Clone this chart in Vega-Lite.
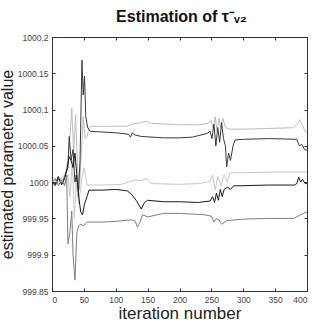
{
  "$schema": "https://vega.github.io/schema/vega-lite/v6.json",
  "autosize": "none",
  "width": 255,
  "height": 254,
  "padding": {"left": 52, "top": 37, "right": 8, "bottom": 39},
  "background": "white",
  "config": {
    "font": "Liberation Sans",
    "view": {"stroke": "#333", "strokeWidth": 1},
    "axis": {"grid": false, "domain": false, "tickColor": "#333", "labelColor": "#444", "labelFontSize": 8.5, "labelFont": "Liberation Sans", "titleFont": "Liberation Sans", "titleFontWeight": "normal", "titleColor": "#222", "tickSize": -3, "labelPadding": 7}
  },
  "title": {"text": "Estimation of τ⁻ᵥ₂", "font": "Liberation Sans", "fontSize": 16, "fontWeight": "bold", "color": "#111", "anchor": "middle", "offset": 8, "dx": 2},
  "datasets": {
    "d": [
      {"it":0,"v":1000.0,"s":"a"},{"it":5,"v":1000.004,"s":"a"},{"it":10,"v":999.998,"s":"a"},{"it":15,"v":1000.006,"s":"a"},{"it":20,"v":1000.01,"s":"a"},{"it":25,"v":1000.03,"s":"a"},{"it":28,"v":1000.06,"s":"a"},{"it":31,"v":1000.102,"s":"a"},{"it":34,"v":1000.04,"s":"a"},{"it":37,"v":1000.093,"s":"a"},{"it":40,"v":1000.02,"s":"a"},{"it":43,"v":999.99,"s":"a"},{"it":46,"v":1000.04,"s":"a"},{"it":49,"v":1000.09,"s":"a"},{"it":52,"v":1000.06,"s":"a"},{"it":55,"v":1000.063,"s":"a"},{"it":58,"v":1000.075,"s":"a"},{"it":62,"v":1000.077,"s":"a"},{"it":80,"v":1000.077,"s":"a"},{"it":100,"v":1000.077,"s":"a"},{"it":118,"v":1000.077,"s":"a"},{"it":125,"v":1000.08,"s":"a"},{"it":140,"v":1000.082,"s":"a"},{"it":148,"v":1000.084,"s":"a"},{"it":155,"v":1000.081,"s":"a"},{"it":180,"v":1000.08,"s":"a"},{"it":200,"v":1000.079,"s":"a"},{"it":230,"v":1000.079,"s":"a"},{"it":245,"v":1000.081,"s":"a"},{"it":250,"v":1000.085,"s":"a"},{"it":253,"v":1000.072,"s":"a"},{"it":256,"v":1000.09,"s":"a"},{"it":259,"v":1000.07,"s":"a"},{"it":262,"v":1000.088,"s":"a"},{"it":265,"v":1000.074,"s":"a"},{"it":268,"v":1000.088,"s":"a"},{"it":272,"v":1000.075,"s":"a"},{"it":279,"v":1000.073,"s":"a"},{"it":300,"v":1000.073,"s":"a"},{"it":340,"v":1000.074,"s":"a"},{"it":379,"v":1000.075,"s":"a"},{"it":385,"v":1000.08,"s":"a"},{"it":389,"v":1000.086,"s":"a"},{"it":393,"v":1000.078,"s":"a"},{"it":397,"v":1000.07,"s":"a"},{"it":400,"v":1000.067,"s":"a"},

      {"it":0,"v":1000.0,"s":"b"},{"it":5,"v":999.995,"s":"b"},{"it":10,"v":1000.005,"s":"b"},{"it":15,"v":999.998,"s":"b"},{"it":20,"v":1000.008,"s":"b"},{"it":25,"v":1000.02,"s":"b"},{"it":27,"v":1000.063,"s":"b"},{"it":30,"v":1000.03,"s":"b"},{"it":33,"v":1000.045,"s":"b"},{"it":36,"v":1000.0,"s":"b"},{"it":38,"v":1000.01,"s":"b"},{"it":41,"v":999.98,"s":"b"},{"it":44,"v":1000.03,"s":"b"},{"it":47,"v":1000.168,"s":"b"},{"it":49,"v":1000.12,"s":"b"},{"it":51,"v":1000.146,"s":"b"},{"it":53,"v":1000.09,"s":"b"},{"it":56,"v":1000.075,"s":"b"},{"it":60,"v":1000.07,"s":"b"},{"it":80,"v":1000.069,"s":"b"},{"it":100,"v":1000.068,"s":"b"},{"it":120,"v":1000.066,"s":"b"},{"it":123,"v":1000.062,"s":"b"},{"it":126,"v":1000.068,"s":"b"},{"it":130,"v":1000.065,"s":"b"},{"it":140,"v":1000.063,"s":"b"},{"it":175,"v":1000.061,"s":"b"},{"it":200,"v":1000.061,"s":"b"},{"it":220,"v":1000.062,"s":"b"},{"it":243,"v":1000.067,"s":"b"},{"it":248,"v":1000.07,"s":"b"},{"it":251,"v":1000.06,"s":"b"},{"it":254,"v":1000.08,"s":"b"},{"it":257,"v":1000.05,"s":"b"},{"it":260,"v":1000.075,"s":"b"},{"it":263,"v":1000.055,"s":"b"},{"it":266,"v":1000.082,"s":"b"},{"it":269,"v":1000.06,"s":"b"},{"it":272,"v":1000.05,"s":"b"},{"it":274,"v":1000.021,"s":"b"},{"it":277,"v":1000.04,"s":"b"},{"it":280,"v":1000.03,"s":"b"},{"it":284,"v":1000.05,"s":"b"},{"it":287,"v":1000.058,"s":"b"},{"it":300,"v":1000.059,"s":"b"},{"it":340,"v":1000.06,"s":"b"},{"it":384,"v":1000.059,"s":"b"},{"it":388,"v":1000.05,"s":"b"},{"it":392,"v":1000.052,"s":"b"},{"it":396,"v":1000.045,"s":"b"},{"it":400,"v":1000.044,"s":"b"},

      {"it":0,"v":1000.0,"s":"c"},{"it":5,"v":1000.003,"s":"c"},{"it":10,"v":999.997,"s":"c"},{"it":15,"v":1000.005,"s":"c"},{"it":20,"v":999.998,"s":"c"},{"it":25,"v":1000.01,"s":"c"},{"it":28,"v":999.98,"s":"c"},{"it":32,"v":1000.03,"s":"c"},{"it":35,"v":999.95,"s":"c"},{"it":38,"v":1000.0,"s":"c"},{"it":42,"v":999.97,"s":"c"},{"it":46,"v":1000.0,"s":"c"},{"it":50,"v":1000.02,"s":"c"},{"it":55,"v":999.996,"s":"c"},{"it":80,"v":999.996,"s":"c"},{"it":110,"v":999.997,"s":"c"},{"it":120,"v":1000.0,"s":"c"},{"it":130,"v":1000.003,"s":"c"},{"it":140,"v":1000.002,"s":"c"},{"it":148,"v":1000.005,"s":"c"},{"it":155,"v":999.998,"s":"c"},{"it":200,"v":999.997,"s":"c"},{"it":230,"v":999.998,"s":"c"},{"it":248,"v":1000.001,"s":"c"},{"it":252,"v":1000.01,"s":"c"},{"it":256,"v":999.99,"s":"c"},{"it":260,"v":1000.008,"s":"c"},{"it":265,"v":999.995,"s":"c"},{"it":270,"v":1000.01,"s":"c"},{"it":275,"v":1000.0,"s":"c"},{"it":279,"v":1000.013,"s":"c"},{"it":300,"v":1000.013,"s":"c"},{"it":350,"v":1000.014,"s":"c"},{"it":400,"v":1000.014,"s":"c"},

      {"it":0,"v":1000.0,"s":"d"},{"it":5,"v":999.997,"s":"d"},{"it":10,"v":1000.008,"s":"d"},{"it":15,"v":999.996,"s":"d"},{"it":20,"v":1000.005,"s":"d"},{"it":24,"v":1000.02,"s":"d"},{"it":27,"v":1000.035,"s":"d"},{"it":30,"v":1000.03,"s":"d"},{"it":33,"v":1000.02,"s":"d"},{"it":36,"v":1000.04,"s":"d"},{"it":39,"v":1000.01,"s":"d"},{"it":42,"v":999.98,"s":"d"},{"it":45,"v":999.959,"s":"d"},{"it":48,"v":999.955,"s":"d"},{"it":51,"v":999.97,"s":"d"},{"it":55,"v":999.98,"s":"d"},{"it":58,"v":999.989,"s":"d"},{"it":80,"v":999.989,"s":"d"},{"it":100,"v":999.99,"s":"d"},{"it":118,"v":999.988,"s":"d"},{"it":125,"v":999.983,"s":"d"},{"it":132,"v":999.975,"s":"d"},{"it":140,"v":999.963,"s":"d"},{"it":145,"v":999.972,"s":"d"},{"it":150,"v":999.975,"s":"d"},{"it":175,"v":999.973,"s":"d"},{"it":200,"v":999.973,"s":"d"},{"it":230,"v":999.972,"s":"d"},{"it":248,"v":999.974,"s":"d"},{"it":252,"v":999.98,"s":"d"},{"it":255,"v":999.972,"s":"d"},{"it":258,"v":999.985,"s":"d"},{"it":261,"v":999.975,"s":"d"},{"it":264,"v":999.99,"s":"d"},{"it":267,"v":999.98,"s":"d"},{"it":270,"v":999.99,"s":"d"},{"it":275,"v":999.993,"s":"d"},{"it":280,"v":999.99,"s":"d"},{"it":285,"v":999.995,"s":"d"},{"it":295,"v":999.995,"s":"d"},{"it":340,"v":999.996,"s":"d"},{"it":380,"v":999.996,"s":"d"},{"it":384,"v":999.998,"s":"d"},{"it":387,"v":1000.007,"s":"d"},{"it":390,"v":1000.0,"s":"d"},{"it":393,"v":1000.004,"s":"d"},{"it":397,"v":999.998,"s":"d"},{"it":400,"v":999.998,"s":"d"},

      {"it":0,"v":1000.0,"s":"e"},{"it":5,"v":1000.005,"s":"e"},{"it":10,"v":999.995,"s":"e"},{"it":15,"v":1000.003,"s":"e"},{"it":20,"v":999.995,"s":"e"},{"it":23,"v":1000.01,"s":"e"},{"it":25,"v":999.915,"s":"e"},{"it":28,"v":999.93,"s":"e"},{"it":31,"v":999.96,"s":"e"},{"it":33,"v":999.9,"s":"e"},{"it":36,"v":999.865,"s":"e"},{"it":39,"v":999.93,"s":"e"},{"it":42,"v":999.94,"s":"e"},{"it":45,"v":999.942,"s":"e"},{"it":50,"v":999.94,"s":"e"},{"it":55,"v":999.945,"s":"e"},{"it":80,"v":999.945,"s":"e"},{"it":100,"v":999.946,"s":"e"},{"it":124,"v":999.948,"s":"e"},{"it":130,"v":999.947,"s":"e"},{"it":134,"v":999.938,"s":"e"},{"it":138,"v":999.945,"s":"e"},{"it":142,"v":999.955,"s":"e"},{"it":150,"v":999.952,"s":"e"},{"it":175,"v":999.957,"s":"e"},{"it":200,"v":999.957,"s":"e"},{"it":240,"v":999.955,"s":"e"},{"it":250,"v":999.953,"s":"e"},{"it":254,"v":999.945,"s":"e"},{"it":258,"v":999.95,"s":"e"},{"it":262,"v":999.948,"s":"e"},{"it":266,"v":999.942,"s":"e"},{"it":274,"v":999.947,"s":"e"},{"it":300,"v":999.949,"s":"e"},{"it":340,"v":999.95,"s":"e"},{"it":379,"v":999.95,"s":"e"},{"it":390,"v":999.955,"s":"e"},{"it":400,"v":999.959,"s":"e"}
    ]
  },
  "data": {"name": "d"},
  "resolve": {"axis": {"x": "independent", "y": "independent"}},
  "layer": [
    {
      "mark": {"type": "line", "strokeWidth": 1, "interpolate": "linear"},
      "encoding": {
        "x": {"field": "it", "type": "quantitative", "scale": {"domain": [0, 400], "nice": false},
              "axis": {"values": [0,50,100,150,200,250,300,350,400], "title": "iteration number", "titleFontSize": 17, "titlePadding": 2, "orient": "bottom"}},
        "y": {"field": "v", "type": "quantitative", "scale": {"domain": [999.85, 1000.2], "nice": false, "zero": false},
              "axis": {"values": [999.85,999.9,999.95,1000,1000.05,1000.1,1000.15,1000.2], "format": "~g", "title": "estimated parameter value", "titleFontSize": 16, "titlePadding": 2, "orient": "left"}},
        "color": {"field": "s", "type": "nominal", "legend": null,
                  "scale": {"domain": ["a","b","c","d","e"], "range": ["#bdbdbd","#3a3a3a","#c8c8c8","#1a1a1a","#7f7f7f"]}},
        "detail": {"field": "s"}
      }
    },
    {
      "mark": {"type": "line", "opacity": 0},
      "encoding": {
        "x": {"field": "it", "type": "quantitative", "scale": {"domain": [0, 400], "nice": false},
              "axis": {"values": [0,50,100,150,200,250,300,350,400], "labels": false, "title": null, "orient": "top"}},
        "y": {"field": "v", "type": "quantitative", "scale": {"domain": [999.85, 1000.2], "nice": false, "zero": false},
              "axis": {"values": [999.85,999.9,999.95,1000,1000.05,1000.1,1000.15,1000.2], "labels": false, "title": null, "orient": "right"}},
        "detail": {"field": "s"}
      }
    }
  ]
}
